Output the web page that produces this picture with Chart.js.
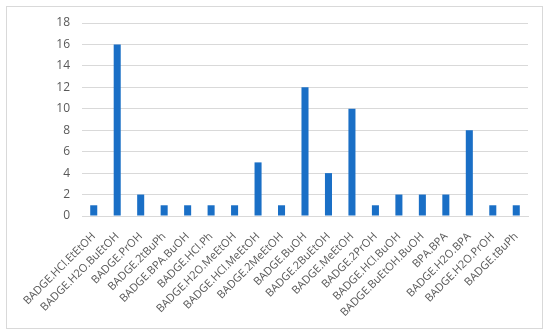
<!DOCTYPE html>
<html>
<head>
<meta charset="utf-8">
<script src="https://cdn.jsdelivr.net/npm/chart.js@4"></script>
<style>
html,body{margin:0;padding:0;background:#fff;}
#wrap{position:relative;width:550px;height:336px;}
#frame{position:absolute;left:6px;top:6px;width:537px;height:323px;border:1px solid #d9d9d9;box-sizing:border-box;}
canvas{position:absolute;left:0;top:0;}
</style>
</head>
<body>
<div id="wrap">
<div id="frame"></div>
<canvas id="c" width="550" height="336"></canvas>
</div>
<script>
const categories = ["BADGE.HCl.EtEtOH","BADGE.H2O.BuEtOH","BADGE.PrOH","BADGE.2tBuPh","BADGE.BPA.BuOH","BADGE.HCl.Ph","BADGE.H2O.MeEtOH","BADGE.HCl.MeEtOH","BADGE.2MeEtOH","BADGE.BuOH","BADGE.2BuEtOH","BADGE.MeEtOH","BADGE.2PrOH","BADGE.HCl.BuOH","BADGE.BuEtOH.BuOH","BPA.BPA","BADGE.H2O.BPA","BADGE.H2O.PrOH","BADGE.tBuPh"];
const values = [1,16,2,1,1,1,1,5,1,12,4,10,1,2,2,2,8,1,1];
const yTicks = [0,2,4,6,8,10,12,14,16,18];

new Chart(document.getElementById('c'), {
  type: 'bar',
  data: {
    labels: categories,
    datasets: [{
      data: values,
      backgroundColor: '#1a6fc6',
      barPercentage: 0.6,
      categoryPercentage: 0.5
    }]
  },
  options: {
    responsive: false,
    animation: false,
    devicePixelRatio: 1,
    plugins: { legend: { display: false }, tooltip: { enabled: false } },
    layout: { padding: { left: 10, right: 22, top: 23, bottom: 0 } },
    scales: {
      x: {
        grid: { display: false },
        border: { display: true, color: '#d9d9d9' },
        ticks: {
          autoSkip: false, minRotation: 45, maxRotation: 45,
          color: '#595959', font: { family: 'Open Sans', size: 11 }, padding: 6
        },
        afterFit: (s) => { s.height = 120; }
      },
      y: {
        min: 0, max: 18,
        afterBuildTicks: (s) => { s.ticks = yTicks.map(v => ({ value: v })); },
        grid: { color: '#d9d9d9', drawTicks: false },
        border: { display: false },
        ticks: { color: '#595959', font: { family: 'Open Sans', size: 12 }, padding: 12 },
        afterFit: (s) => { s.width = 72; }
      }
    }
  }
});
</script>
</body>
</html>
